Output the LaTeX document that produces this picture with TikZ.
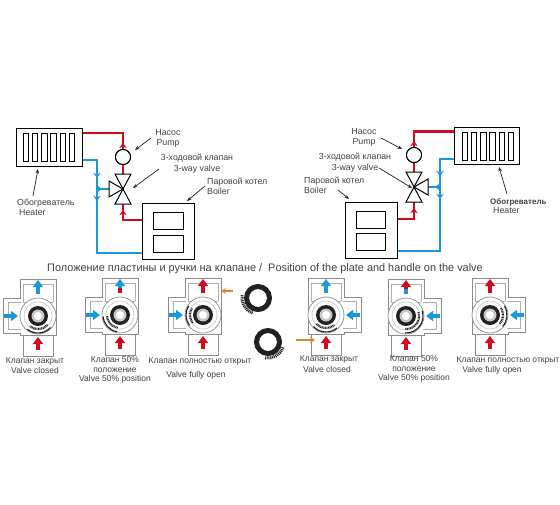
\documentclass[tikz,border=0pt]{standalone}
\usepackage{fontspec}
\setmainfont{Liberation Sans}
\usetikzlibrary{arrows.meta,positioning,calc}
\definecolor{hot}{rgb}{0.82,0.04,0.13}
\definecolor{cold}{rgb}{0.10,0.60,0.85}
\definecolor{ink}{gray}{0.25}
\definecolor{lgray}{gray}{0.55}
\definecolor{dark}{gray}{0.13}
\definecolor{brass}{rgb}{0.87,0.53,0.15}

\begin{document}
\begin{tikzpicture}[x=1pt,y=-1pt,
      every node/.style={font=\fontsize{8.8}{10}\selectfont, text=ink, inner sep=0pt},
      caption/.style={font=\fontsize{8.5}{10}\selectfont},
      box/.style={draw=black, line width=1pt, fill=white, minimum width=#1, inner sep=0pt},
      plate/.style={draw=black, line width=1pt, minimum width=#1, inner sep=0pt},
      pumpnode/.style={draw=black, line width=1pt, fill=white, circle, minimum size=15pt},
      hotpipe/.style={draw=hot, line width=2.8pt},
      coldpipe/.style={draw=cold, line width=2.8pt},
      pointer/.style={-{Stealth[length=4.5pt,width=3.5pt]}, draw=dark, line width=.7pt},
      tip/.style={-{Stealth[length=5pt,width=7pt]}, draw=#1, line width=.1pt},
      shaft/.style={draw=#1, line width=3.5pt},
      flow/.style={-{Triangle[length=7pt,width=10pt]}, draw=#1, line width=3.5pt},
      ring/.style={circle, draw=dark, line width=5pt, fill=white, minimum size=23pt},
      orangearrow/.style={-{Stealth[length=5pt,width=6pt]}, draw=brass, line width=1.2pt},
      pics/threeway/.style={code={
        \draw[line width=1pt, fill=white] (0,0) -- (-8,-15) -- (8,-15) -- cycle;
        \draw[line width=1pt, fill=white] (0,0) -- (-8,15) -- (8,15) -- cycle;
        \draw[line width=1pt, fill=white] (0,0) -- (-14,-8) -- (-14,8) -- cycle;
      }},
      pics/valvebody/.style n args={4}{code={
        \draw[lgray, line width=.7pt, fill=white]
          (-18,-18) -- (-18,-37) -- (18,-37) -- (18,19) -- (-18,19) -- (-18,17) -- (-35,17) -- (-35,-18) -- cycle;
        \draw[lgray!70, line width=.6pt]
          (-15,-14) -- (-15,-32) -- (15,-32) -- (15,-14)
          (-15,-14) -- (15,-14)
          (-17,-14) -- (-30,-14) -- (-30,13) -- (-17,13);
        \draw[lgray, line width=.7pt, fill=white] (-15,19) rectangle (15,40);
        \draw[lgray, line width=.7pt, fill=white] (0,0) circle[radius=18];
        \draw[lgray!60, line width=.5pt] (0,0) circle[radius=14];
        \draw[dark, line width=1.1pt] (#1:17) arc[start angle=#1, end angle=#2, radius=17];
        \draw[dark, line width=2pt, dash pattern=on .9pt off .7pt] (#1:13) arc[start angle=#1, end angle=#2, radius=13];
        \fill[dark] (0,0) circle[radius=10];
        \fill[lgray!50] (0,0) circle[radius=6.5];
        \fill[white] (0,0) circle[radius=4];
        \draw[shaft=#3] (0,-22) -- (0,-28);
        \draw[flow=#4] (0,-27.5) -- (0,-36);
        \draw[flow=cold] (-34,0) -- (-20,0);
        \draw[flow=hot] (0,34) -- (0,21);
      }}
    ]
    \useasboundingbox (0,0) rectangle (560,504);

    % left system
    \node[box=66pt, minimum height=38pt] (heaterL) at (49,147) {};
    \foreach \i in {0,...,5}
      \node[plate=5.5pt, minimum height=28pt] (barL\i) at ({26+\i*9.2},147) {};
    \node[box=52pt, minimum height=56pt] (boilerL) at (168,231) {};
    \node[plate=30pt, minimum height=17pt] (plateLa) at (168,220.5) {};
    \node[plate=30pt, minimum height=17pt] (plateLb) at (168,243.5) {};
    \node[pumpnode] (pumpL) at (123,157) {};
    \coordinate (valveL) at (123,189);
    \coordinate (teeL) at (97,189);

    \draw[hotpipe] ([yshift=14pt]heaterL.east) -| (pumpL);
    \draw[hotpipe] (pumpL) -- (valveL);
    \draw[hotpipe] (valveL) |- ([yshift=11pt]boilerL.west);
    \draw[coldpipe] ([yshift=-13pt]heaterL.east) -| (teeL);
    \draw[coldpipe] (teeL) |- ([yshift=-22pt]boilerL.west);
    \draw[coldpipe] (teeL) -- (valveL);
    \node[pumpnode] at (pumpL) {};
    \pic at (valveL) {threeway};

    \draw[tip=hot] (123,148) -- (123,143);
    \draw[tip=hot] (123,215) -- (123,210);
    \draw[tip=cold] (97,173) -- (97,178);
    \draw[tip=cold] (97,196) -- (97,201);
    \draw[tip=cold] (97,189) -- (102,189);

    \node (pumpLru) at (168,133) {Насос};
    \node[below=2.5pt of pumpLru] (pumpLen) {Pump};
    \node (valveLru) at (197,158) {3-ходовой клапан};
    \node[below=2.5pt of valveLru] (valveLen) {3-way valve};
    \node[anchor=west] (boilerLru) at (207,182) {Паровой котел};
    \node[anchor=west] (boilerLen) at (207,191) {Boiler};
    \node[anchor=west] (heaterLru) at (17,203) {Обогреватель};
    \node[anchor=west] (heaterLen) at (19,213) {Heater};

    \draw[pointer] (151,138) -- (135,150);
    \draw[pointer] (159,169) -- (133,188);
    \draw[pointer] (205,186) -- (187,201);
    \draw[pointer] (33,196) -- (38,169);

    % right system
    \node[box=65pt, minimum height=37pt] (heaterR) at (486.5,145.5) {};
    \foreach \i in {0,...,5}
      \node[plate=5.5pt, minimum height=28pt] (barR\i) at ({465+\i*9.2},146) {};
    \node[box=52pt, minimum height=56pt] (boilerR) at (371,230) {};
    \node[plate=29pt, minimum height=17pt] (plateRa) at (370.5,219.5) {};
    \node[plate=29pt, minimum height=17pt] (plateRb) at (370.5,242) {};
    \node[pumpnode] (pumpR) at (414,155) {};
    \coordinate (valveR) at (414,187);
    \coordinate (teeR) at (440,187);

    \draw[hotpipe] ([yshift=14pt]heaterR.west) -| (pumpR);
    \draw[hotpipe] (pumpR) -- (valveR);
    \draw[hotpipe] (valveR) |- ([yshift=11pt]boilerR.east);
    \draw[coldpipe] ([yshift=-13.5pt]heaterR.west) -| (teeR);
    \draw[coldpipe] (teeR) |- ([yshift=-21pt]boilerR.east);
    \draw[coldpipe] (teeR) -- (valveR);
    \node[pumpnode] at (pumpR) {};
    \pic[xscale=-1] at (valveR) {threeway};

    \draw[tip=hot] (414,146) -- (414,141);
    \draw[tip=hot] (414,213) -- (414,208);
    \draw[tip=cold] (440,171) -- (440,176);
    \draw[tip=cold] (440,194) -- (440,199);
    \draw[tip=cold] (440,187) -- (435,187);

    \node (pumpRru) at (364,132) {Насос};
    \node[below=2.5pt of pumpRru] (pumpRen) {Pump};
    \node (valveRru) at (355,157) {3-ходовой клапан};
    \node[below=2.5pt of valveRru] (valveRen) {3-way valve};
    \node[anchor=west] (boilerRru) at (304,181) {Паровой котел};
    \node[anchor=west] (boilerRen) at (304,190) {Boiler};
    \node[anchor=west, font=\fontsize{8}{10}\selectfont] (heaterRru) at (490,202) {\textbf{Обогреватель}};
    \node[anchor=west] (heaterRen) at (493,211) {Heater};

    \draw[pointer] (381,138) -- (402,149);
    \draw[pointer] (379,168) -- (412,188);
    \draw[pointer] (338,190) -- (349,199);
    \draw[pointer] (507,194) -- (499,167);

    \node[font=\fontsize{10.9}{12}\selectfont] (title) at (265,269)
      {Положение пластины и ручки на клапане /\ \ Position of the plate and handle on the valve};

    % valves
    \pic at (38,316) {valvebody={43}{129}{cold}{cold}};
    \pic at (120,315) {valvebody={100}{175}{hot}{cold}};
    \pic at (203,315) {valvebody={142}{213}{hot}{hot}};
    \pic[xscale=-1] at (326,315) {valvebody={43}{130}{cold}{cold}};
    \pic[xscale=-1] at (406,316) {valvebody={87}{198}{cold}{hot}};
    \pic[xscale=-1] at (490,315) {valvebody={138}{212}{hot}{hot}};

    % handle rings
    \node[ring] (ringA) at (258,298) {};
    \node[ring] (ringB) at (268,342) {};
    \draw[dark, line width=3pt, dash pattern=on 1pt off .8pt] (ringA) ++(110:16) arc[start angle=110, end angle=190, radius=16];
    \draw[dark, line width=3pt, dash pattern=on 1pt off .8pt] (ringB) ++(20:16) arc[start angle=20, end angle=100, radius=16];
    \draw[orangearrow] ([xshift=-11pt,yshift=7pt]ringA.west) -- ++(-12,0);
    \draw[orangearrow] ([xshift=14pt,yshift=2pt]ringB.east) -- ++(19,0);

    % captions
    \node[caption] (capAru) at (35,361) {Клапан закрыт};
    \node[caption] (capAen) at (35,370) {Valve closed};
    \node[caption] (capBru) at (115,360) {Клапан 50\%};
    \node[caption] (capBmid) at (115,370) {положение};
    \node[caption] (capBen) at (115,379) {Valve 50\% position};
    \node[caption] (capCru) at (200,361) {Клапан полностью открыт};
    \node[caption] (capCen) at (196,375) {Valve fully open};
    \node[caption] (capDru) at (329,359) {Клапан закрыт};
    \node[caption] (capDen) at (327,369) {Valve closed};
    \node[caption] (capEru) at (414,359) {Клапан 50\%};
    \node[caption] (capEmid) at (414,369) {положение};
    \node[caption] (capEen) at (414,378) {Valve 50\% position};
    \node[caption] (capFru) at (508,360) {Клапан полностью открыт};
    \node[caption] (capFen) at (492,370) {Valve fully open};
  \end{tikzpicture}
\end{document}
